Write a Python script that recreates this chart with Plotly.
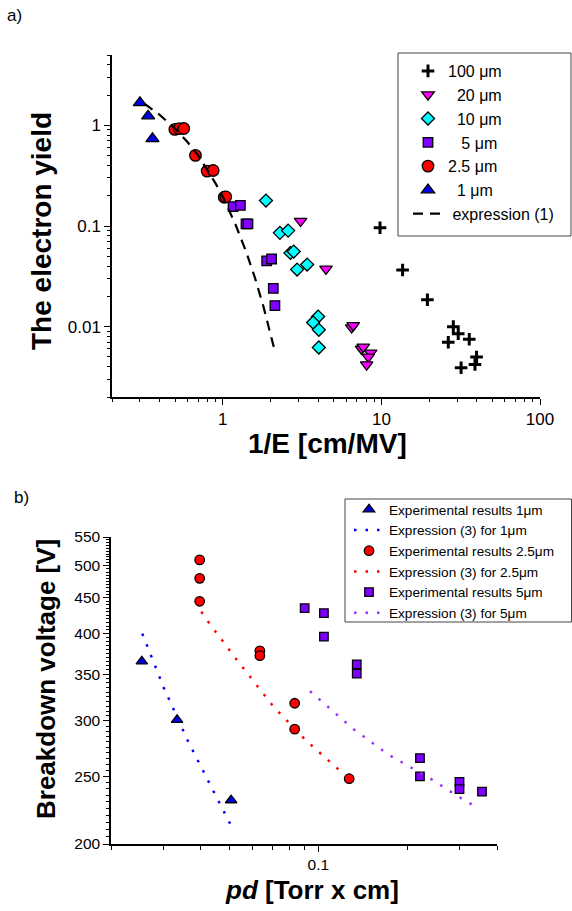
import plotly.graph_objects as go

# ---------------- Panel a) data ----------------
x_100 = [9.8, 13.6, 19.5, 28.4, 30.5, 26.4, 35.8, 39.8, 38.9, 31.8]
y_100 = [0.096, 0.0366, 0.0185, 0.0100, 0.0085, 0.0070, 0.0075, 0.0050, 0.0042, 0.0039]

x_20 = [3.09, 4.47, 6.49, 6.64, 7.5, 7.68, 8.55, 8.26, 8.07]
y_20 = [0.112, 0.0375, 0.0098, 0.0103, 0.0060, 0.0063, 0.0055, 0.0050, 0.0042]

x_10 = [1.87, 2.29, 2.58, 2.67, 2.8, 2.94, 3.4, 3.99, 3.71, 4.03, 4.03]
y_10 = [0.179, 0.0855, 0.090, 0.054, 0.0557, 0.0369, 0.0414, 0.0126, 0.0110, 0.0093, 0.0062]

x_5 = [1.16, 1.29, 1.40, 1.44, 1.89, 2.03, 2.08, 2.13]
y_5 = [0.156, 0.160, 0.105, 0.105, 0.045, 0.047, 0.024, 0.0162]

x_25 = [0.498, 0.53, 0.567, 0.672, 0.796, 0.869, 1.02, 1.044]
y_25 = [0.912, 0.927, 0.93, 0.503, 0.351, 0.356, 0.193, 0.195]

x_1 = [0.30, 0.338, 0.36]
y_1 = [1.68, 1.24, 0.737]

x_expr1 = [0.32, 0.4, 0.5, 0.6, 0.7, 0.8, 0.9, 1.0, 1.2, 1.4, 1.6, 1.8, 2.0, 2.1]
y_expr1 = [1.64, 1.27, 0.93, 0.68, 0.50, 0.36, 0.265, 0.195, 0.104, 0.056, 0.030, 0.016, 0.0085, 0.0062]

# ---------------- Panel b) data ----------------
pd_1um = [0.0254, 0.0334, 0.0508]
vb_1um = [365, 301, 231]
pd_expr_1um = [0.0255, 0.028, 0.0301, 0.0363, 0.0427, 0.0505]
vb_expr_1um = [400, 362, 335, 281, 245, 213.5]

pd_25um = [0.0398, 0.0398, 0.0398, 0.0635, 0.0635, 0.0832, 0.0832, 0.127]
vb_25um = [510, 480, 445, 378, 372, 318, 292, 248]
pd_expr_25um = [0.0403, 0.0427, 0.0532, 0.0708, 0.0906, 0.119]
vb_expr_25um = [430, 415, 366.5, 314, 281.6, 254]

pd_5um = [0.0899, 0.1044, 0.1044, 0.1347, 0.1347, 0.22, 0.22, 0.299, 0.299, 0.356]
vb_5um = [435, 428, 396, 361.5, 350.7, 265.5, 250, 245.4, 239.7, 237.6]
pd_expr_5um = [0.0937, 0.1303, 0.171, 0.24, 0.299, 0.343]
vb_expr_5um = [331, 292.8, 269, 247.7, 233.3, 225.5]

# tick definitions
xa_major = [1, 10, 100]
xa_minor = [0.2, 0.3, 0.4, 0.5, 0.6, 0.7, 0.8, 0.9, 2, 3, 4, 5, 6, 7, 8, 9,
            20, 30, 40, 50, 60, 70, 80, 90]
ya_major = [0.01, 0.1, 1]
ya_minor = [0.002, 0.003, 0.004, 0.005, 0.006, 0.007, 0.008, 0.009,
            0.02, 0.03, 0.04, 0.05, 0.06, 0.07, 0.08, 0.09,
            0.2, 0.3, 0.4, 0.5, 0.6, 0.7, 0.8, 0.9, 2, 3, 4, 5]
xb_major = [0.1]
xb_minor = [0.02, 0.03, 0.04, 0.05, 0.06, 0.07, 0.08, 0.09, 0.2, 0.3, 0.4]
yb_major = [200, 250, 300, 350, 400, 450, 500, 550]
yb_minor = list(range(200, 551, 5))

FONT = "Liberation Sans, Arial, sans-serif"
NB = "\u00a0"
FS = "\u2007"

fig = go.Figure()

ol = dict(color="black", width=1.3)
DOT = "2.5px,9px"

# ---- panel a traces ----
fig.add_trace(go.Scatter(x=x_100, y=y_100, mode="markers", name="100 μm",
                         marker=dict(symbol="cross-thin", size=9, color="black",
                                     line=dict(color="black", width=3)),
                         xaxis="x", yaxis="y", legend="legend"))
fig.add_trace(go.Scatter(x=x_20, y=y_20, mode="markers", name=FS + "20 μm",
                         marker=dict(symbol="triangle-down", size=11, color="#FF00FF", line=ol),
                         xaxis="x", yaxis="y", legend="legend"))
fig.add_trace(go.Scatter(x=x_10, y=y_10, mode="markers", name=FS + "10 μm",
                         marker=dict(symbol="diamond", size=10, color="#00FFFF", line=ol),
                         xaxis="x", yaxis="y", legend="legend"))
fig.add_trace(go.Scatter(x=x_5, y=y_5, mode="markers", name=FS + NB + "5 μm",
                         marker=dict(symbol="square", size=9.5, color="#8000FF", line=ol),
                         xaxis="x", yaxis="y", legend="legend"))
fig.add_trace(go.Scatter(x=x_25, y=y_25, mode="markers", name="2.5 μm",
                         marker=dict(symbol="circle", size=11.5, color="#FF0000", line=ol),
                         xaxis="x", yaxis="y", legend="legend"))
fig.add_trace(go.Scatter(x=x_1, y=y_1, mode="markers", name=FS + "1 μm",
                         marker=dict(symbol="triangle-up", size=11.5, color="#0000E6", line=ol),
                         xaxis="x", yaxis="y", legend="legend"))
fig.add_trace(go.Scatter(x=x_expr1, y=y_expr1, mode="lines", name=NB + "expression (1)",
                         line=dict(color="black", width=2.2, dash="10px,7px"),
                         xaxis="x", yaxis="y", legend="legend"))

# ---- panel b traces ----
fig.add_trace(go.Scatter(x=pd_1um, y=vb_1um, mode="markers", name="Experimental results 1μm",
                         marker=dict(symbol="triangle-up", size=10, color="#0000E6", line=ol),
                         xaxis="x2", yaxis="y2", legend="legend2"))
fig.add_trace(go.Scatter(x=pd_expr_1um, y=vb_expr_1um, mode="lines", name="Expression (3) for 1μm",
                         line=dict(color="#0000FF", width=2.5, dash=DOT),
                         xaxis="x2", yaxis="y2", legend="legend2"))
fig.add_trace(go.Scatter(x=pd_25um, y=vb_25um, mode="markers", name="Experimental results 2.5μm",
                         marker=dict(symbol="circle", size=9.5, color="#FF0000", line=ol),
                         xaxis="x2", yaxis="y2", legend="legend2"))
fig.add_trace(go.Scatter(x=pd_expr_25um, y=vb_expr_25um, mode="lines", name="Expression (3) for 2.5μm",
                         line=dict(color="#FF0000", width=2.5, dash=DOT),
                         xaxis="x2", yaxis="y2", legend="legend2"))
fig.add_trace(go.Scatter(x=pd_5um, y=vb_5um, mode="markers", name="Experimental results 5μm",
                         marker=dict(symbol="square", size=8.5, color="#8000FF", line=ol),
                         xaxis="x2", yaxis="y2", legend="legend2"))
fig.add_trace(go.Scatter(x=pd_expr_5um, y=vb_expr_5um, mode="lines", name="Expression (3) for 5μm",
                         line=dict(color="#9933FF", width=2.5, dash=DOT),
                         xaxis="x2", yaxis="y2", legend="legend2"))

W, H = 572, 911


def px_x(p):
    return p / W


def px_y(p):
    return 1 - p / H


axis_common = dict(type="log", showline=True, linecolor="black", linewidth=1.5,
                   showgrid=False, zeroline=False, ticks="outside", ticklen=6,
                   tickwidth=1.3, tickcolor="black", tickmode="array")

fig.update_layout(
    width=W, height=H,
    margin=dict(l=0, r=0, t=0, b=0, autoexpand=False),
    paper_bgcolor="white", plot_bgcolor="white",
    font=dict(family=FONT, color="black"),
    xaxis=dict(axis_common, domain=[px_x(112), px_x(540)], anchor="y",
               range=[-0.69897, 2.0], tickvals=xa_major, ticktext=["1", "10", "100"],
               tickfont=dict(size=17),
               minor=dict(tickmode="array", tickvals=xa_minor, ticks="outside", ticklen=3.5,
                          tickwidth=1.2, tickcolor="black", showgrid=False)),
    yaxis=dict(axis_common, domain=[px_y(397), px_y(55)], anchor="x",
               range=[-2.69897, 0.69897], tickvals=ya_major, ticktext=["0.01", "0.1", "1"],
               tickfont=dict(size=17),
               minor=dict(tickmode="array", tickvals=ya_minor, ticks="outside", ticklen=3.5,
                          tickwidth=1.2, tickcolor="black", showgrid=False)),
    xaxis2=dict(axis_common, domain=[px_x(111), px_x(497)], anchor="y2",
                range=[-1.69897, -0.39794], tickvals=xb_major, ticktext=["0.1"],
                tickfont=dict(size=15.5),
                minor=dict(tickmode="array", tickvals=xb_minor, ticks="outside", ticklen=4,
                           tickwidth=1.2, tickcolor="black", showgrid=False)),
    yaxis2=dict(axis_common, domain=[px_y(844), px_y(537)], anchor="x2",
                range=[2.30103, 2.740363], tickvals=yb_major,
                ticktext=[str(v) for v in yb_major],
                tickfont=dict(size=15.5),
                minor=dict(tickmode="array", tickvals=yb_minor, ticks="outside", ticklen=3,
                           tickwidth=1, tickcolor="black", showgrid=False)),
    legend=dict(x=px_x(408), y=px_y(54), xanchor="left", yanchor="top",
                bgcolor="rgba(0,0,0,0)", borderwidth=0,
                font=dict(size=16, family=FONT), itemwidth=30),
    legend2=dict(x=px_x(349), y=px_y(494), xanchor="left", yanchor="top",
                 bgcolor="rgba(0,0,0,0)", borderwidth=0,
                 font=dict(size=13.6, family=FONT), itemwidth=30),
    showlegend=True,
    shapes=[
        dict(type="rect", xref="paper", yref="paper", layer="above",
             x0=px_x(398), x1=px_x(571), y0=px_y(236), y1=px_y(53),
             line=dict(color="#444444", width=1), fillcolor="white"),
        dict(type="rect", xref="paper", yref="paper", layer="above",
             x0=px_x(345), x1=px_x(571.5), y0=px_y(622), y1=px_y(499),
             line=dict(color="#444444", width=1), fillcolor="white"),
    ],
)

annos = [
    dict(text="a)", x=px_x(5), y=px_y(16), xanchor="left", yanchor="middle",
         font=dict(size=17)),
    dict(text="b)", x=px_x(12), y=px_y(497), xanchor="left", yanchor="middle",
         font=dict(size=17)),
    dict(text="<b>The electron yield</b>", x=px_x(41), y=px_y(231), textangle=-90,
         xanchor="center", yanchor="middle", font=dict(size=28)),
    dict(text="<b>1/E [cm/MV]</b>", x=px_x(327), y=px_y(444), xanchor="center",
         yanchor="middle", font=dict(size=28)),
    dict(text="<b>Breakdown voltage [V]</b>", x=px_x(46), y=px_y(679), textangle=-90,
         xanchor="center", yanchor="middle", font=dict(size=26)),
    dict(text="<b><i>pd</i> [Torr x cm]</b>", x=px_x(312), y=px_y(890), xanchor="center",
         yanchor="middle", font=dict(size=26)),
]
for a in annos:
    a.update(xref="paper", yref="paper", showarrow=False)
    a["font"] = dict(a["font"], family=FONT, color="black")
fig.update_layout(annotations=annos)

fig.write_html("out.html", post_script="document.body.style.margin='0';")
